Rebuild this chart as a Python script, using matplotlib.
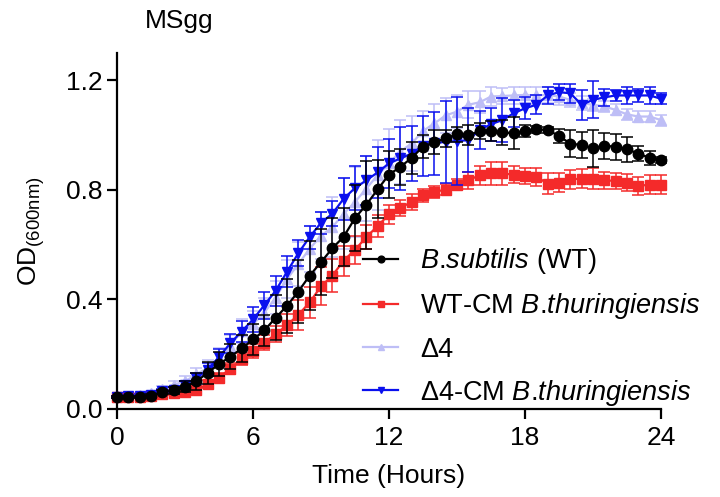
import numpy as np
import matplotlib
matplotlib.use("Agg")
import matplotlib.pyplot as plt

plt.rcParams["font.family"] = ["Liberation Sans", "DejaVu Sans"]
plt.rcParams["mathtext.fontset"] = "custom"
plt.rcParams["mathtext.rm"] = "Liberation Sans"
plt.rcParams["mathtext.it"] = "Liberation Sans:italic"

# time points, every 0.5 h
hours = np.arange(0, 24.01, 0.5)

wt = [0.044, 0.044, 0.045, 0.048, 0.061, 0.068, 0.081, 0.101, 0.132, 0.164,
      0.191, 0.221, 0.254, 0.287, 0.333, 0.377, 0.429, 0.487, 0.536, 0.587,
      0.629, 0.697, 0.746, 0.802, 0.856, 0.884, 0.917, 0.958, 0.974, 0.988,
      1.003, 1.000, 1.015, 1.015, 1.010, 1.007, 1.015, 1.021, 1.019, 0.997,
      0.969, 0.964, 0.952, 0.961, 0.958, 0.948, 0.933, 0.917, 0.909]
wt_sd = [0.004, 0.004, 0.004, 0.005, 0.008, 0.012, 0.02, 0.03, 0.04, 0.045,
         0.046, 0.05, 0.055, 0.058, 0.082, 0.098, 0.115, 0.125, 0.12, 0.11,
         0.105, 0.12, 0.16, 0.106, 0.087, 0.067, 0.058, 0.043, 0.044, 0.03,
         0.027, 0.037, 0.03, 0.037, 0.046, 0.058, 0.022, 0.012, 0.01, 0.026,
         0.048, 0.046, 0.067, 0.048, 0.047, 0.046, 0.026, 0.026, 0.012]

wt_cm = [0.044, 0.044, 0.045, 0.047, 0.055, 0.059, 0.061, 0.071, 0.090, 0.114,
         0.147, 0.181, 0.211, 0.242, 0.273, 0.306, 0.344, 0.389, 0.448, 0.487,
         0.542, 0.581, 0.628, 0.668, 0.711, 0.735, 0.756, 0.780, 0.793, 0.801,
         0.819, 0.835, 0.854, 0.860, 0.860, 0.856, 0.850, 0.848, 0.823, 0.827,
         0.839, 0.841, 0.841, 0.835, 0.833, 0.827, 0.815, 0.819, 0.819]
wt_cm_sd = [0.004, 0.004, 0.004, 0.005, 0.006, 0.008, 0.01, 0.012, 0.015, 0.018,
            0.02, 0.022, 0.025, 0.028, 0.03, 0.04, 0.055, 0.056, 0.07, 0.06,
            0.055, 0.051, 0.043, 0.04, 0.035, 0.03, 0.028, 0.025, 0.022, 0.02,
            0.02, 0.03, 0.035, 0.043, 0.043, 0.03, 0.03, 0.032, 0.037, 0.035,
            0.034, 0.035, 0.038, 0.032, 0.03, 0.03, 0.034, 0.034, 0.035]

d4 = [0.044, 0.048, 0.051, 0.057, 0.073, 0.089, 0.101, 0.126, 0.150, 0.187,
      0.230, 0.285, 0.309, 0.352, 0.407, 0.474, 0.530, 0.585, 0.633, 0.664,
      0.713, 0.756, 0.805, 0.854, 0.897, 0.940, 0.970, 1.015, 1.043, 1.072,
      1.086, 1.111, 1.120, 1.141, 1.143, 1.145, 1.147, 1.145, 1.147, 1.141,
      1.129, 1.117, 1.111, 1.105, 1.092, 1.076, 1.068, 1.068, 1.055]
d4_sd = [0.004, 0.006, 0.008, 0.01, 0.012, 0.015, 0.02, 0.025, 0.03, 0.035,
         0.04, 0.045, 0.05, 0.055, 0.06, 0.07, 0.08, 0.085, 0.087, 0.11,
         0.13, 0.128, 0.12, 0.128, 0.126, 0.117, 0.1, 0.073, 0.07, 0.065,
         0.06, 0.05, 0.04, 0.035, 0.03, 0.03, 0.03, 0.03, 0.03, 0.03,
         0.025, 0.025, 0.022, 0.02, 0.02, 0.02, 0.02, 0.02, 0.02]

d4_cm = [0.044, 0.046, 0.048, 0.052, 0.064, 0.070, 0.089, 0.113, 0.144, 0.190,
         0.240, 0.283, 0.327, 0.379, 0.432, 0.501, 0.569, 0.628, 0.680, 0.713,
         0.768, 0.807, 0.835, 0.864, 0.897, 0.915, 0.933, 0.961, 0.970, 0.976,
         0.978, 0.982, 1.019, 1.040, 1.055, 1.080, 1.098, 1.111, 1.145, 1.157,
         1.153, 1.111, 1.129, 1.138, 1.145, 1.145, 1.145, 1.145, 1.133]
d4_cm_sd = [0.004, 0.005, 0.006, 0.008, 0.01, 0.012, 0.015, 0.02, 0.025, 0.03,
            0.035, 0.04, 0.045, 0.05, 0.055, 0.056, 0.048, 0.042, 0.04, 0.045,
            0.077, 0.08, 0.09, 0.092, 0.09, 0.114, 0.1, 0.11, 0.116, 0.15,
            0.16, 0.116, 0.07, 0.06, 0.08, 0.05, 0.04, 0.035, 0.03, 0.03,
            0.035, 0.055, 0.067, 0.03, 0.02, 0.03, 0.025, 0.03, 0.02]

# \hspace{-0.2} cancels the extra gap mathtext puts after a "."
labels = [r"$\it{B.\hspace{-0.2}subtilis}$ (WT)",
          r"WT-CM $\it{B.\hspace{-0.2}thuringiensis}$",
          "\u03944",
          "\u03944-CM " + r"$\it{B.\hspace{-0.2}thuringiensis}$"]

fig = plt.figure(figsize=(7.2, 4.97), dpi=100)
ax = fig.add_axes([117 / 720, 88 / 497, 544 / 720, 356 / 497])

series = [
    # (y, sd, colour, marker, markersize, zorder)
    (d4, d4_sd, "#BEBEF6", "^", 7.5, 1),
    (wt_cm, wt_cm_sd, "#F42A2A", "s", 6.5, 2),
    (d4_cm, d4_cm_sd, "#0A10EE", "v", 7.5, 3),
    (wt, wt_sd, "black", "o", 7.5, 4),
]
handles = {}
for y, sd, col, mk, ms, z in series:
    eb = ax.errorbar(hours, y, yerr=sd, color=col, marker=mk, markersize=ms,
                     linewidth=1.6, elinewidth=1.1, capsize=4, capthick=1.1,
                     zorder=z, clip_on=False)
    handles[col] = eb[0]

order = ["black", "#F42A2A", "#BEBEF6", "#0A10EE"]
leg = ax.legend([handles[c] for c in order], labels, loc="center left",
                bbox_to_anchor=(363 / 720, 1 - 327 / 497),
                bbox_transform=fig.transFigure, frameon=False, fontsize=19.5,
                handlelength=1.3, handletextpad=0.8, labelspacing=0.56,
                borderpad=0, borderaxespad=0, markerscale=0.65)

ax.set_xlim(0, 24)
ax.set_ylim(0, 1.3)
ax.set_xticks([0, 6, 12, 18, 24])
ax.set_yticks([0.0, 0.4, 0.8, 1.2])
ax.set_yticklabels(["0.0", "0.4", "0.8", "1.2"])
for s in ["top", "right"]:
    ax.spines[s].set_visible(False)
for s in ["left", "bottom"]:
    ax.spines[s].set_linewidth(1.6)
ax.tick_params(direction="out", length=7.2, width=1.6, labelsize=19)
ax.tick_params(axis="x", pad=5)
ax.tick_params(axis="y", pad=3.5)

ax.set_xlabel("Time (Hours)", fontsize=19)
ax.set_ylabel(r"OD$_{\mathrm{(600nm)}}$", fontsize=19)
ax.xaxis.set_label_coords(0.5, (409 - 464) / 356)
ax.yaxis.set_label_coords((47 - 117) / 544, 0.5)
fig.text(145 / 720, 1 - 28 / 497, "MSgg", fontsize=19, va="baseline", ha="left")

fig.savefig("out.png", dpi=100)
